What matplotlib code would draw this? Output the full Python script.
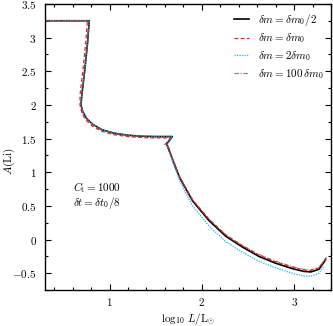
import matplotlib
matplotlib.use("Agg")
import matplotlib.pyplot as plt
from matplotlib.ticker import MultipleLocator, FuncFormatter

plt.rcParams['mathtext.fontset'] = 'cm'
plt.rcParams['font.family'] = 'serif'
plt.rcParams['font.size'] = 8

# Dados
x_half = [0.30, 0.78, 0.76, 0.73, 0.70, 0.69, 0.71, 0.75, 0.82, 0.92, 1.05, 1.20, 1.35, 1.50, 1.68,
          1.62, 1.68, 1.76, 1.90, 2.08, 2.26, 2.44, 2.62, 2.80, 2.98, 3.10, 3.18, 3.27, 3.34]
y_half = [3.25, 3.25, 2.90, 2.50, 2.15, 2.00, 1.90, 1.80, 1.71, 1.63, 1.58, 1.55, 1.535, 1.53, 1.53,
          1.42, 1.20, 0.92, 0.575, 0.28, 0.05, -0.11, -0.25, -0.35, -0.43, -0.47, -0.48, -0.44, -0.30]

x_one = [0.30, 0.76, 0.74, 0.71, 0.68, 0.68, 0.70, 0.74, 0.81, 0.91, 1.04, 1.20, 1.35, 1.50, 1.66,
         1.60, 1.64, 1.68, 1.76, 1.90, 2.08, 2.26, 2.44, 2.62, 2.80, 2.98, 3.10, 3.18, 3.27, 3.35]
y_one = [3.25, 3.25, 2.90, 2.50, 2.15, 2.00, 1.88, 1.78, 1.69, 1.61, 1.56, 1.53, 1.515, 1.51, 1.51,
         1.41, 1.37, 1.20, 0.93, 0.59, 0.30, 0.07, -0.09, -0.23, -0.33, -0.41, -0.45, -0.46, -0.42, -0.27]

x_two = [0.30, 0.78, 0.76, 0.73, 0.70, 0.69, 0.71, 0.75, 0.82, 0.92, 1.05, 1.20, 1.35, 1.50, 1.68,
         1.62, 1.68, 1.76, 1.90, 2.08, 2.26, 2.44, 2.62, 2.80, 2.98, 3.10, 3.18, 3.27, 3.32]
y_two = [3.25, 3.25, 2.90, 2.50, 2.15, 2.00, 1.90, 1.80, 1.71, 1.63, 1.58, 1.55, 1.54, 1.535, 1.535,
         1.40, 1.17, 0.87, 0.50, 0.20, -0.03, -0.19, -0.32, -0.42, -0.50, -0.54, -0.545, -0.50, -0.40]

x_hund = [0.30, 0.78, 0.76, 0.73, 0.70, 0.69, 0.71, 0.75, 0.82, 0.92, 1.05, 1.20, 1.35, 1.50, 1.67,
          1.61, 1.68, 1.76, 1.90, 2.08, 2.26, 2.44, 2.62, 2.80, 2.98, 3.10, 3.18, 3.27, 3.35]
y_hund = [3.25, 3.25, 2.90, 2.50, 2.15, 2.00, 1.90, 1.80, 1.71, 1.63, 1.58, 1.55, 1.53, 1.525, 1.525,
          1.42, 1.21, 0.93, 0.59, 0.30, 0.07, -0.09, -0.22, -0.32, -0.40, -0.44, -0.45, -0.41, -0.27]

# Gráfico

fig = plt.figure(figsize=(3.33, 3.26), dpi=100)
ax = fig.add_axes([0.135, 0.11, 0.859, 0.878])

ax.plot(x_half, y_half, color='black', lw=1.2, label=r'$\delta m = \delta m_0/2$')
ax.plot(x_one, y_one, color='#e8202a', lw=0.9, ls=(0, (3, 2)), label=r'$\delta m = \delta m_0$')
ax.plot(x_two, y_two, color='#1eb4f0', lw=0.9, ls=(0, (1, 1)), label=r'$\delta m = 2\delta m_0$')
ax.plot(x_hund, y_hund, color='#8a5040', lw=0.8, ls=(0, (4, 1.5, 1, 1.5)), alpha=0.8,
        label=r'$\delta m = 100\,\delta m_0$')

ax.set_xlim(0.3, 3.4)
ax.set_ylim(-0.75, 3.5)
ax.xaxis.set_major_locator(MultipleLocator(1))
ax.xaxis.set_minor_locator(MultipleLocator(0.2))
ax.yaxis.set_major_locator(MultipleLocator(0.5))
ax.yaxis.set_minor_locator(MultipleLocator(0.25))
fmt = FuncFormatter(lambda v, p: '$%g$' % v)
ax.xaxis.set_major_formatter(fmt)
ax.yaxis.set_major_formatter(fmt)
ax.tick_params(which='both', direction='in', top=True, right=True, labelsize=8, width=0.8)
ax.tick_params(which='major', length=4)
ax.tick_params(axis='x', which='major', pad=4)
ax.tick_params(axis='y', which='major', pad=6)
ax.tick_params(which='minor', length=2)
for s in ax.spines.values():
    s.set_linewidth(1.0)

ax.set_xlabel(r'$\log_{10}\,L/\mathrm{L}_{\odot}$', fontsize=8, va='center')
ax.xaxis.set_label_coords(0.5, -0.1)
ax.set_ylabel(r'$A(\mathrm{Li})$', fontsize=8, va='center')
ax.yaxis.set_label_coords(-0.125, 0.45)

ax.text(0.6, 0.77, r'$C_{\mathrm{t}} = 1000$', fontsize=8, va='center')
ax.text(0.6, 0.55, r'$\delta t = \delta t_0/8$', fontsize=8, va='center')

ax.legend(loc='upper right', frameon=False, fontsize=8, handlelength=1.3,
          handletextpad=0.8, labelspacing=0.35, borderaxespad=0.3)

plt.savefig('out.png', dpi=100)
